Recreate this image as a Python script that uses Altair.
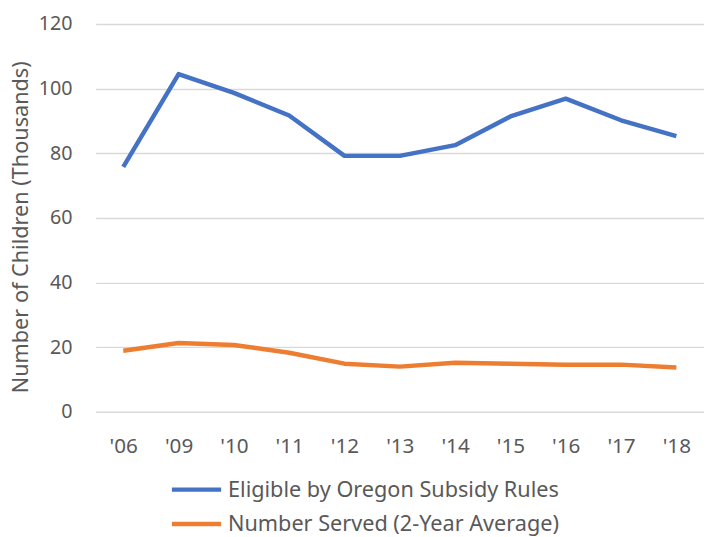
import altair as alt
import pandas as pd

years = ["'06", "'09", "'10", "'11", "'12", "'13", "'14", "'15", "'16", "'17", "'18"]
eligible = [75.8, 104.5, 98.7, 91.7, 79.2, 79.2, 82.5, 91.4, 96.9, 90.2, 85.3]
served = [18.9, 21.3, 20.7, 18.3, 14.9, 14.0, 15.2, 14.9, 14.6, 14.6, 13.7]
series_names = ["Eligible by Oregon Subsidy Rules", "Number Served (2-Year Average)"]
colors = ["#4472C4", "#ED7D31"]

rows = []
for i, y in enumerate(years):
    rows.append({"year": y, "value": eligible[i], "series": series_names[0], "order": i})
    rows.append({"year": y, "value": served[i], "series": series_names[1], "order": i})
df = pd.DataFrame(rows)

FONT = "Noto Sans"
GREY = "#595959"

chart = alt.Chart(df).mark_line(strokeWidth=4.5, strokeJoin="round").encode(
    x=alt.X("year:N", sort=years, title=None,
            scale=alt.Scale(type="point", padding=0.5),
            axis=alt.Axis(labelAngle=0, labelFontSize=21, labelColor=GREY, labelFont=FONT,
                          labelPadding=24, domain=False, ticks=False, grid=False)),
    y=alt.Y("value:Q", title="Number of Children (Thousands)",
            scale=alt.Scale(domain=[0, 120], nice=False),
            axis=alt.Axis(values=[0, 20, 40, 60, 80, 100, 120], labelFontSize=20, labelColor=GREY,
                          labelFont=FONT, labelPadding=24, domain=False, ticks=False,
                          gridColor="#D9D9D9", gridWidth=1.5,
                          titleFontSize=22, titleColor=GREY, titleFont=FONT, titleFontWeight="normal",
                          titlePadding=6, titleY=206)),
    color=alt.Color("series:N", sort=series_names, title=None,
                    scale=alt.Scale(domain=series_names, range=colors),
                    legend=alt.Legend(orient="none", legendX=87.5, legendY=458, direction="vertical",
                                      symbolType="M-2,0H2", symbolSize=625, symbolStrokeWidth=4.5,
                                      labelFontSize=22, labelColor=GREY, labelFont=FONT,
                                      labelLimit=0, labelOffset=17, rowPadding=9)),
    order="order:Q",
).properties(
    width=618, height=394,
    autosize=alt.AutoSizeParams(type="none"),
    padding={"left": 89, "top": 12, "right": 0, "bottom": 130},
).configure_view(stroke=None)

chart.save("out.html", embed_options={"renderer": "svg", "actions": False})
